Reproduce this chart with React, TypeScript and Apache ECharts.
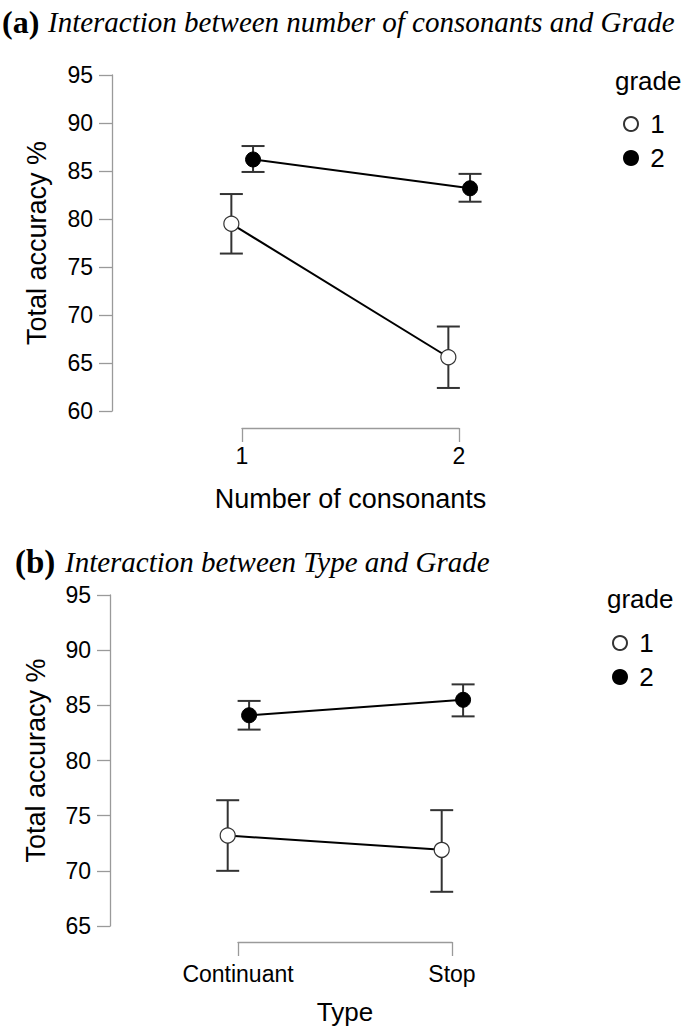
import React, { useEffect, useRef } from "react";
import * as echarts from "echarts";

// ---------- data ----------
const GRADES = ["1", "2"];

// Panel (a): Number of consonants x Grade
const CATS_A = ["1", "2"];
const G1_A = [79.5, 65.6];
const G1_A_LO = [76.4, 62.4];
const G1_A_HI = [82.6, 68.8];
const G2_A = [86.2, 83.2];
const G2_A_LO = [84.9, 81.8];
const G2_A_HI = [87.6, 84.7];
const Y_A_MIN = 60;
const Y_A_MAX = 95;

// Panel (b): Type x Grade
const CATS_B = ["Continuant", "Stop"];
const G1_B = [73.2, 71.9];
const G1_B_LO = [70.0, 68.1];
const G1_B_HI = [76.4, 75.5];
const G2_B = [84.1, 85.5];
const G2_B_LO = [82.8, 84.0];
const G2_B_HI = [85.4, 86.9];
const Y_B_MIN = 65;
const Y_B_MAX = 95;
const Y_STEP = 5;

// ---------- styling ----------
const SANS = '"Liberation Sans", Arial, sans-serif';
const SERIF = '"Liberation Serif", "Times New Roman", serif';
const AXIS_GRAY = "#9a9a9a";
const DODGE = 0.05;

function pts(vals: number[], off: number) {
  return vals.map((v, i) => [i + 1 + off, v]);
}
function bars(vals: number[], lo: number[], hi: number[], off: number) {
  return vals.map((v, i) => [i + 1 + off, v, lo[i], hi[i]]);
}

function errRender(params: any, api: any) {
  const x = api.value(0);
  const top = api.coord([x, api.value(3)]);
  const bot = api.coord([x, api.value(2)]);
  const hw = 11.5;
  const style = { stroke: "#333", lineWidth: 2 };
  return {
    type: "group",
    children: [
      { type: "line", shape: { x1: top[0], y1: top[1], x2: bot[0], y2: bot[1] }, style },
      { type: "line", shape: { x1: top[0] - hw, y1: top[1], x2: top[0] + hw, y2: top[1] }, style },
      { type: "line", shape: { x1: bot[0] - hw, y1: bot[1], x2: bot[0] + hw, y2: bot[1] }, style },
    ],
  };
}

function yAxis(grid: number, min: number, max: number, gap: number) {
  return {
    gridIndex: grid,
    type: "value",
    min,
    max,
    interval: Y_STEP,
    axisLine: { show: true, lineStyle: { color: AXIS_GRAY, width: 1.3 } },
    axisTick: { show: true, length: 13, lineStyle: { color: AXIS_GRAY, width: 1.3 } },
    axisLabel: { fontSize: 23, color: "#000", margin: 19, fontFamily: SANS },
    splitLine: { show: false },
    name: "Total accuracy %",
    nameLocation: "middle",
    nameGap: gap,
    nameTextStyle: { fontSize: 27, color: "#000", fontFamily: SANS },
  };
}

function bracketAxis(grid: number, cats: string[], name: string, margin: number, gap: number, nameSize: number) {
  return {
    gridIndex: grid,
    type: "value",
    min: 1,
    max: 2,
    interval: 1,
    axisLine: { show: true, onZero: false, lineStyle: { color: AXIS_GRAY, width: 1.3 } },
    axisTick: { show: true, length: 14, lineStyle: { color: AXIS_GRAY, width: 1.3 } },
    axisLabel: {
      fontSize: 23,
      color: "#000",
      margin,
      fontFamily: SANS,
      formatter: (v: number) => cats[Math.round(v) - 1] ?? "",
    },
    splitLine: { show: false },
    name,
    nameLocation: "middle",
    nameGap: gap,
    nameTextStyle: { fontSize: nameSize, color: "#000", fontFamily: SANS },
  };
}

function lineSeries(name: string, data: number[][], xi: number, filled: boolean) {
  return {
    type: "line",
    name,
    xAxisIndex: xi,
    yAxisIndex: xi,
    data,
    symbol: "circle",
    symbolSize: 15,
    z: 5,
    lineStyle: { color: "#000", width: 2 },
    itemStyle: filled
      ? { color: "#000", borderColor: "#000", borderWidth: 1 }
      : { color: "#fff", borderColor: "#333", borderWidth: 1.2 },
    emphasis: { disabled: true },
  };
}

function errSeries(data: number[][], xi: number) {
  return {
    type: "custom",
    xAxisIndex: xi,
    yAxisIndex: xi,
    data,
    renderItem: errRender,
    z: 3,
    silent: true,
  };
}

function legend(left: number, top: number) {
  return {
    data: GRADES,
    orient: "vertical",
    left,
    top,
    icon: "circle",
    itemWidth: 14,
    itemHeight: 14,
    itemGap: 8,
    selectedMode: false,
    formatter: (n: string) => " " + n,
    textStyle: { fontSize: 26, color: "#000", fontFamily: SANS, lineHeight: 26 },
  };
}

export default function App() {
  const ref = useRef<HTMLDivElement>(null);
  useEffect(() => {
    if (!ref.current) return;
    const chart = echarts.init(ref.current, undefined, { renderer: "svg" });
    chart.setOption({
      animation: false,
      backgroundColor: "#fff",
      grid: [
        { left: 112, top: 75, width: 434, height: 336 },
        { left: 242, top: 400, width: 217, height: 28 },
        { left: 110, top: 595, width: 428, height: 331 },
        { left: 238, top: 914, width: 214, height: 28 },
      ],
      xAxis: [
        { gridIndex: 0, type: "value", min: 0.4, max: 2.4, show: false },
        bracketAxis(1, CATS_A, "Number of consonants", 16, 57, 27),
        { gridIndex: 2, type: "value", min: 0.4, max: 2.4, show: false },
        bracketAxis(3, CATS_B, "Type", 20, 57, 26),
      ],
      yAxis: [
        yAxis(0, Y_A_MIN, Y_A_MAX, 62),
        { gridIndex: 1, type: "value", show: false },
        yAxis(2, Y_B_MIN, Y_B_MAX, 61),
        { gridIndex: 3, type: "value", show: false },
      ],
      legend: [legend(618, 106), legend(607, 625)],
      graphic: [
        { type: "text", left: 2, top: 6, style: { text: "(a)", font: `bold 32px ${SERIF}`, fill: "#000" } },
        { type: "text", left: 48, top: 7, style: { text: "Interaction between number of consonants and Grade", font: `italic 29px ${SERIF}`, fill: "#000" } },
        { type: "text", left: 615, top: 68, style: { text: "grade", font: `26px ${SANS}`, fill: "#000" } },
        { type: "text", left: 15, top: 545, style: { text: "(b)", font: `bold 33px ${SERIF}`, fill: "#000" } },
        { type: "text", left: 65, top: 547, style: { text: "Interaction between Type and Grade", font: `italic 29px ${SERIF}`, fill: "#000" } },
        { type: "text", left: 607, top: 586, style: { text: "grade", font: `26px ${SANS}`, fill: "#000" } },
      ],
      series: [
        errSeries(bars(G1_A, G1_A_LO, G1_A_HI, -DODGE), 0),
        errSeries(bars(G2_A, G2_A_LO, G2_A_HI, DODGE), 0),
        lineSeries(GRADES[0], pts(G1_A, -DODGE), 0, false),
        lineSeries(GRADES[1], pts(G2_A, DODGE), 0, true),
        errSeries(bars(G1_B, G1_B_LO, G1_B_HI, -DODGE), 2),
        errSeries(bars(G2_B, G2_B_LO, G2_B_HI, DODGE), 2),
        lineSeries(GRADES[0], pts(G1_B, -DODGE), 2, false),
        lineSeries(GRADES[1], pts(G2_B, DODGE), 2, true),
      ],
    });
    return () => chart.dispose();
  }, []);
  return (
    <div
      ref={ref}
      style={{ position: "absolute", left: 0, top: 0, width: 685, height: 1027 }}
    />
  );
}
